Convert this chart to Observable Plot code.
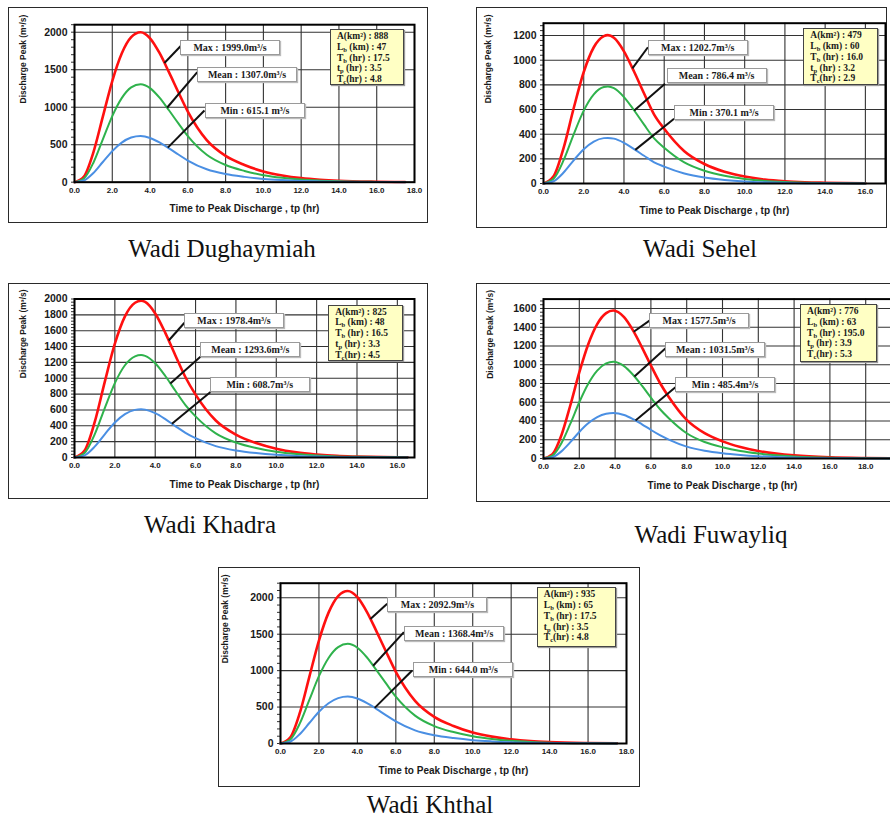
<!DOCTYPE html>
<html><head><meta charset="utf-8">
<script src="https://cdn.jsdelivr.net/npm/d3@7"></script>
<script src="https://cdn.jsdelivr.net/npm/@observablehq/plot@0.6"></script>
<style>
body{margin:0;width:890px;height:820px;overflow:hidden;position:relative;background:#fff;}
.panel{position:absolute;}
.panel svg{position:absolute;left:0;top:0;}
.frame{position:absolute;box-sizing:border-box;border:1.5px solid #2a2a2a;}
.lbl{position:absolute;box-sizing:border-box;background:#fff;border:1px solid #9a9a9a;box-shadow:1px 1px 1px #bbb;font:bold 10px "Liberation Serif","Times New Roman",serif;line-height:13px;text-align:center;white-space:nowrap;color:#1a1a1a;}
.info{position:absolute;box-sizing:border-box;background:#ffffc4;border:1px solid #444;box-shadow:1px 1px 1px #999;font:bold 9.5px "Liberation Serif","Times New Roman",serif;line-height:10.8px;padding:1px 0 0 6px;color:#1a1a1a;white-space:nowrap;}
.info div{height:10.8px;}
.info sub{font-size:6.5px;vertical-align:-1.5px;line-height:0;}
.title{position:absolute;font:25px/25px "Liberation Serif","Times New Roman",serif;color:#111;transform:translateX(-50%);white-space:nowrap;}
</style></head><body>
<script>
// ---------------- data ----------------
const xTitle = "Time to Peak Discharge , tp (hr)";
const yTitle = "Discharge Peak (m³/s)";
const titles = ["Wadi Dughaymiah", "Wadi Sehel", "Wadi Khadra", "Wadi Fuwayliq", "Wadi Khthal"];

const xTicks16 = [0, 2, 4, 6, 8, 10, 12, 14, 16];
const xTicks18 = [0, 2, 4, 6, 8, 10, 12, 14, 16, 18];
const xTicks20 = [0, 2, 4, 6, 8, 10, 12, 14, 16, 18, 20];
const yTicks500 = [0, 500, 1000, 1500, 2000];
const yTicks1200 = [0, 200, 400, 600, 800, 1000, 1200];
const yTicks2000 = [0, 200, 400, 600, 800, 1000, 1200, 1400, 1600, 1800, 2000];
const yTicks1600 = [0, 200, 400, 600, 800, 1000, 1200, 1400, 1600];

const infoNames = ["A(km²)", "L<sub>b</sub> (km)", "T<sub>b</sub> (hr)", "t<sub>p</sub> (hr)", "T<sub>c</sub>(hr)"];

// Wadi Dughaymiah
const dughTime = [0,0.5,1,1.5,2,2.5,3,3.5,4,4.5,5,5.5,6,7,8,9,10,11,12,13,14,16,17.5];
const dughMax  = [0,76,398,874,1349,1715,1933,1999,1919,1723,1467,1199,940,560,350,230,144,90,54,32,18,6,2];
const dughMean = [0,50,260,571,882,1121,1264,1307,1255,1127,959,784,614,366,229,150,94,59,35,21,12,4,1];
const dughMin  = [0,23,122,269,415,528,595,615,590,530,451,369,289,172,108,71,44,28,17,10,6,2,1];
const dughLabels = ["Max : 1999.0m³/s", "Mean : 1307.0m³/s", "Min : 615.1 m³/s"];
const dughInfo = ["888", "47", "17.5", "3.5", "4.8"];

// Wadi Sehel
const sehelTime = [0,0.5,1,1.5,2,2.5,3,3.2,3.5,4,4.5,5,5.5,6,7,8,9,10,11,12,13,14,16];
const sehelMax  = [0,58,289,610,904,1105,1195,1203,1182,1072,908,730,559,444,262,158,95,57,32,18,10,6,1];
const sehelMean = [0,38,189,399,591,723,782,786,773,701,594,477,366,290,171,103,62,37,21,12,7,4,1];
const sehelMin  = [0,18,89,188,278,340,368,370,364,330,279,225,172,137,81,48,29,17,10,6,3,2,0];
const sehelLabels = ["Max : 1202.7m³/s", "Mean : 786.4 m³/s", "Min : 370.1 m³/s"];
const sehelInfo = ["479", "60", "16.0", "3.2", "2.9"];

// Wadi Khadra
const khadTime = [0,0.5,1,1.5,2,2.5,3,3.3,3.5,4,4.5,5,5.5,6,7,8,9,10,11,12,13,14,16,16.5];
const khadMax  = [0,88,445,954,1436,1781,1953,1978,1963,1818,1573,1288,1013,793,467,289,182,111,65,38,20,12,3,2];
const khadMean = [0,57,291,624,939,1164,1277,1294,1283,1189,1028,842,662,519,305,189,119,72,43,25,13,8,2,1];
const khadMin  = [0,27,137,293,442,548,601,609,604,559,484,396,312,244,144,89,56,34,20,12,6,4,1,1];
const khadLabels = ["Max : 1978.4m³/s", "Mean : 1293.6m³/s", "Min : 608.7m³/s"];
const khadInfo = ["825", "48", "16.5", "3.3", "4.5"];

// Wadi Fuwayliq
const fuwTime = [0,0.5,1,1.5,2,2.5,3,3.5,3.9,4.5,5,5.5,6,6.5,7,8,9,10,11,12,13,14,16,18,19.5];
const fuwMax  = [0,45,248,568,918,1219,1434,1551,1578,1507,1366,1186,992,808,656,412,270,183,123,80,52,33,13,5,2];
const fuwMean = [0,30,162,371,600,797,938,1014,1032,985,893,776,649,528,429,269,176,120,80,53,34,22,8,3,1];
const fuwMin  = [0,14,76,175,283,375,441,477,485,464,420,365,305,249,202,127,83,56,38,25,16,10,4,1,0];
const fuwLabels = ["Max : 1577.5m³/s", "Mean : 1031.5m³/s", "Min : 485.4m³/s"];
const fuwInfo = ["776", "63", "195.0", "3.9", "5.3"];

// Wadi Khthal
const khthTime = [0,0.5,1,1.5,2,2.5,3,3.5,4,4.5,5,5.5,6,7,8,9,10,11,12,13,14,16,17.5];
const khthMax  = [0,80,416,915,1413,1796,2024,2093,2009,1804,1536,1256,984,586,366,241,151,94,57,33,19,6,2];
const khthMean = [0,52,272,598,924,1174,1323,1368,1314,1180,1004,821,643,383,239,157,99,62,37,22,12,4,1];
const khthMin  = [0,24,128,281,435,553,623,644,618,555,473,386,303,180,113,74,46,29,17,10,6,2,1];
const khthLabels = ["Max : 2092.9m³/s", "Mean : 1368.4m³/s", "Min : 644.0 m³/s"];
const khthInfo = ["935", "65", "17.5", "3.5", "4.8"];

const seriesColors = ["#ff1010", "#2fb24c", "#4a8fe3"];
const seriesWidths = [2.6, 2, 2];

// ---------------- layout ----------------
const panels = [
  { box:[8,7,420,216], m:[17.2,14,41.3,66], xDomain:[0,18], yDomain:[0,2100], xTicks:xTicks18, yTicks:yTicks500, yMinorStep:100,
    time:dughTime, values:[dughMax,dughMean,dughMin], labels:dughLabels, info:dughInfo, yTitleDx:51,
    boxes:[[8.26,1786],[9.16,1436],[9.58,949]], arrows:[[5.70,1836,4.76],[6.5,1467,4.9],[6.88,956,4.94]],
    infoBox:[13.55,2036,17.47,1289], title:[222,236] },
  { box:[476,7,411,221], m:[15.7,2,45,67], xDomain:[0,17], yDomain:[0,1300], xTicks:xTicks16, yTicks:yTicks1200, yMinorStep:40,
    time:sehelTime, values:[sehelMax,sehelMean,sehelMin], labels:sehelLabels, info:sehelInfo, yTitleDx:55,
    boxes:[[7.69,1099],[8.63,869],[9.0,572]], arrows:[[5.19,1105,4.42],[6.04,809,4.51],[6.49,525,4.56]],
    infoBox:[12.94,1255,16.66,795], title:[700,236] },
  { box:[8,283,420,216], m:[15.5,14,42,66], xDomain:[0,16.85], yDomain:[0,2000], xTicks:xTicks16, yTicks:yTicks2000, yMinorStep:40,
    time:khadTime, values:[khadMax,khadMean,khadMin], labels:khadLabels, info:khadInfo, yTitleDx:51,
    boxes:[[7.93,1718],[8.74,1354],[9.21,911]], arrows:[[5.45,1700,4.67],[6.24,1270,4.75],[6.74,827,4.83]],
    infoBox:[12.6,1924,16.31,1206], title:[210,512] },
  { box:[476,283,430,219], m:[15.6,5,44,67], xDomain:[0,20], yDomain:[0,1700], xTicks:xTicks20, yTicks:yTicks1600, yMinorStep:40,
    time:fuwTime, values:[fuwMax,fuwMean,fuwMin], labels:fuwLabels, info:fuwInfo, yTitleDx:53,
    boxes:[[8.72,1463],[9.61,1157],[10.17,782]], arrows:[[5.98,1479,5.04],[6.82,1177,5.08],[7.37,760,5.14]],
    infoBox:[14.36,1643,18.64,1027], title:[711,522] },
  { box:[218,567,422,220], m:[15.7,14,44,62], xDomain:[0,18], yDomain:[0,2200], xTicks:xTicks18, yTicks:yTicks500, yMinorStep:100,
    time:khthTime, values:[khthMax,khthMean,khthMin], labels:khthLabels, info:khthInfo, yTitleDx:55,
    boxes:[[8.19,1904],[9.06,1499],[9.54,1009]], arrows:[[5.55,1917,4.68],[6.42,1528,4.82],[6.85,1002,4.9]],
    infoBox:[13.36,2137,17.48,1313], title:[430,792] }
];

function interp(ts, qs, t) {
  for (let i = 1; i < ts.length; i++) {
    if (t <= ts[i]) { const f = (t - ts[i-1]) / (ts[i] - ts[i-1]); return qs[i-1] + f * (qs[i] - qs[i-1]); }
  }
  return qs[qs.length - 1];
}

panels.forEach((cfg, pi) => {
  const [left, top, w, h] = cfg.box;
  const lines = cfg.values.map((vals, si) => Plot.line(vals.map((q, i) => ({t: cfg.time[i], q})), {
    x: "t", y: "q", stroke: seriesColors[si], strokeWidth: seriesWidths[si], curve: "monotone-x"
  }));
  const arrows = cfg.arrows.map((a, si) => ({x1: a[0], y1: a[1], x2: a[2], y2: interp(cfg.time, cfg.values[si], a[2])}));
  const minor = d3.range(0, cfg.yDomain[1] + 0.001, cfg.yMinorStep);

  const plot = Plot.plot({
    width: w, height: h,
    marginTop: cfg.m[0], marginRight: cfg.m[1], marginBottom: cfg.m[2], marginLeft: cfg.m[3],
    x: {domain: cfg.xDomain},
    y: {domain: cfg.yDomain},
    style: {background: "transparent", fontFamily: "'Liberation Sans', Arial, sans-serif", fontWeight: "bold", color: "#1a1a1a", overflow: "visible"},
    marks: [
      Plot.gridX(cfg.xTicks, {stroke: "#333", strokeOpacity: 1, strokeWidth: 1.1}),
      Plot.gridY(cfg.yTicks, {stroke: "#333", strokeOpacity: 1, strokeWidth: 1.1}),
      Plot.axisY(minor, {tickSize: 3, tickFormat: () => "", stroke: "#333", label: null}),
      Plot.axisY(cfg.yTicks, {tickSize: 0, tickPadding: 7, fontSize: 10.5, tickFormat: d => String(d), label: null}),
      Plot.axisX(cfg.xTicks, {tickSize: 0, tickPadding: 5, fontSize: 8, tickFormat: d => d.toFixed(1), label: null}),
      Plot.text([xTitle], {frameAnchor: "bottom", dy: 27, fontSize: 10, lineAnchor: "middle", fill: "#1a1a1a"}),
      Plot.text([yTitle], {frameAnchor: "left", dx: -cfg.yTitleDx, rotate: -90, fontSize: 8.5, lineAnchor: "middle", fill: "#1a1a1a"}),
      ...lines,
      Plot.link(arrows, {x1: "x1", y1: "y1", x2: "x2", y2: "y2", stroke: "#111", strokeWidth: 2}),
      Plot.frame({stroke: "#000", strokeWidth: 2})
    ]
  });

  const frame = document.createElement("div");
  frame.className = "frame";
  Object.assign(frame.style, {left: left + "px", top: top + "px", width: w + "px", height: h + "px"});
  document.body.appendChild(frame);

  const div = document.createElement("div");
  div.className = "panel";
  Object.assign(div.style, {left: left + "px", top: top + "px", width: w + "px", height: h + "px"});
  div.appendChild(plot);
  document.body.appendChild(div);

  const xs = plot.scale("x"), ys = plot.scale("y");
  cfg.boxes.forEach((b, si) => {
    const el = document.createElement("div");
    el.className = "lbl";
    const bw = 100, bh = 15;
    Object.assign(el.style, {left: (xs.apply(b[0]) - bw / 2) + "px", top: (ys.apply(b[1]) - bh / 2) + "px", width: bw + "px", height: bh + "px"});
    el.textContent = cfg.labels[si];
    div.appendChild(el);
  });

  const ib = cfg.infoBox;
  const info = document.createElement("div");
  info.className = "info";
  const ix1 = xs.apply(ib[0]), iy1 = ys.apply(ib[1]), ix2 = xs.apply(ib[2]), iy2 = ys.apply(ib[3]);
  Object.assign(info.style, {left: ix1 + "px", top: iy1 + "px", width: (ix2 - ix1) + "px", height: (iy2 - iy1) + "px"});
  info.innerHTML = infoNames.map((n, i) => `<div>${n} : ${cfg.info[i]}</div>`).join("");
  div.appendChild(info);

  const t = document.createElement("div");
  t.className = "title";
  t.style.left = cfg.title[0] + "px";
  t.style.top = cfg.title[1] + "px";
  t.textContent = titles[pi];
  document.body.appendChild(t);
});
</script>
</body></html>
